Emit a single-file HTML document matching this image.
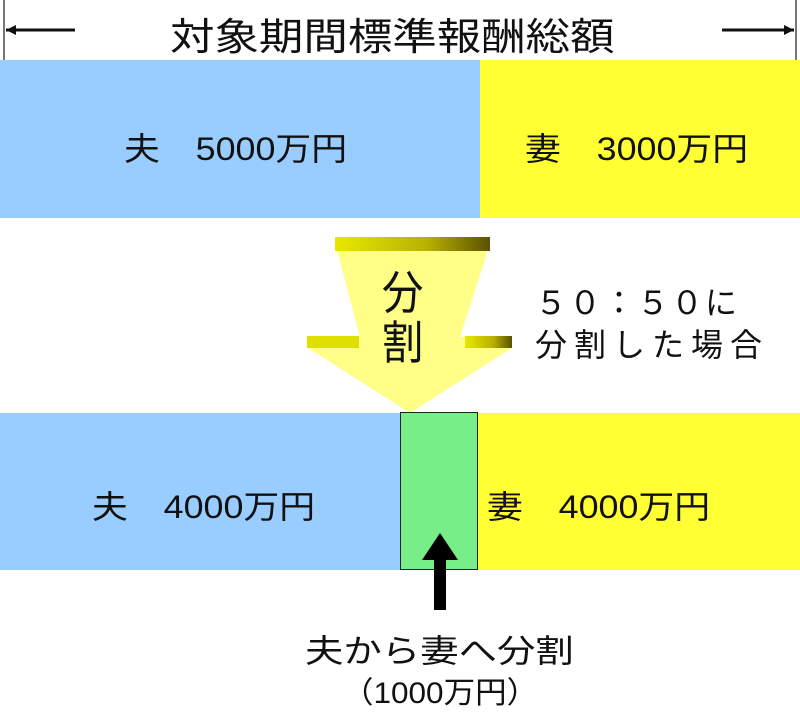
<!DOCTYPE html>
<html><head><meta charset="utf-8"><style>
body{margin:0;width:800px;height:710px;background:#fff;position:relative;overflow:hidden;font-family:"Liberation Sans","Noto Sans CJK JP",sans-serif;color:#111}
.a{position:absolute}
.t{position:absolute;white-space:nowrap;transform-origin:0 0}
</style></head><body>
<div class="a" style="left:3px;top:0;width:2px;height:60px;background:#777"></div>
<div class="a" style="left:795px;top:0;width:2px;height:60px;background:#777"></div>
<svg class="a" style="left:0;top:0" width="800" height="60">
<line x1="6" y1="30" x2="75" y2="30" stroke="#111" stroke-width="3"/>
<polygon points="6,30 16,25 16,35" fill="#111"/>
<line x1="722" y1="30" x2="794" y2="30" stroke="#111" stroke-width="3"/>
<polygon points="794,30 784,25 784,35" fill="#111"/>
</svg>
<div class="t" style="left:170px;top:6px;font-size:38px;transform:scaleX(1.17)">対象期間標準報酬総額</div>
<div class="a" style="left:0;top:60px;width:480px;height:158px;background:#99ccff"></div>
<div class="a" style="left:480px;top:60px;width:320px;height:158px;background:#ffff33"></div>
<div class="t" style="left:124px;top:124px;font-size:32px;transform:scaleX(1.12)">夫　5000万円</div>
<div class="t" style="left:525px;top:124px;font-size:32px;transform:scaleX(1.12)">妻　3000万円</div>
<svg class="a" style="left:0;top:230" width="800" height="190">
<defs><linearGradient id="g" x1="0" x2="1"><stop offset="0" stop-color="#e8e800"/><stop offset="0.6" stop-color="#b8b000"/><stop offset="1" stop-color="#5a5200"/></linearGradient></defs>
<polygon points="337,20 488,20 460,107 512,107 512,118 410,183 308,118 308,107 360,107" fill="#ffff88"/>
<rect x="335" y="7" width="155" height="14" fill="url(#g)"/>
<rect x="307" y="106" width="52" height="12" fill="#e0e000"/>
<rect x="465" y="106" width="47" height="12" fill="url(#g)"/>
</svg>
<div class="t" style="left:382px;top:268px;font-size:46px;line-height:50px;transform:scaleX(0.9)">分<br>割</div>
<div class="t" style="left:535px;top:282px;font-size:32px;line-height:42px;letter-spacing:2px">５０：５０に</div>
<div class="t" style="left:535px;top:324px;font-size:32px;line-height:42px;letter-spacing:7px">分割した場合</div>
<div class="a" style="left:0;top:413px;width:401px;height:157px;background:#99ccff"></div>
<div class="a" style="left:478px;top:413px;width:322px;height:157px;background:#ffff33"></div>
<div class="a" style="left:400px;top:412px;width:76px;height:156px;background:#77ee88;border:1px solid #222"></div>
<div class="t" style="left:92px;top:482px;font-size:32px;transform:scaleX(1.12)">夫　4000万円</div>
<div class="t" style="left:487px;top:482px;font-size:32px;transform:scaleX(1.12)">妻　4000万円</div>
<svg class="a" style="left:0;top:530" width="800" height="90">
<polygon points="440,3 458,30 446,30 446,80 434,80 434,30 422,30" fill="#000"/>
</svg>
<div class="t" style="left:305px;top:626px;font-size:32px;transform:scaleX(1.2)">夫から妻へ分割</div>
<div class="t" style="left:342px;top:668px;font-size:30px;transform:scaleX(1.05)">（1000万円）</div>
</body></html>
